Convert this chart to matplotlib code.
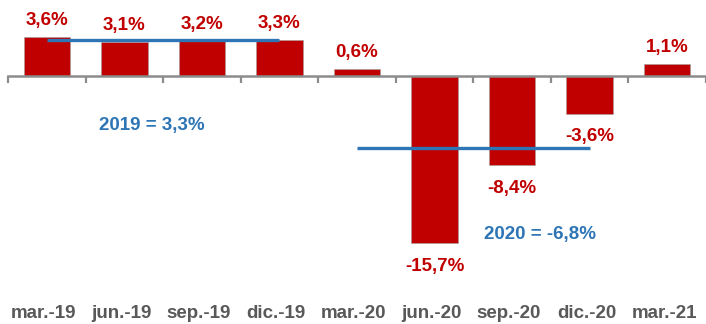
import matplotlib.pyplot as plt
from matplotlib import transforms
import numpy as np

plt.rcParams['font.family'] = ['Liberation Sans', 'DejaVu Sans']

# quarterly growth, % year on year
quarters = ['mar.-19', 'jun.-19', 'sep.-19', 'dic.-19', 'mar.-20',
            'jun.-20', 'sep.-20', 'dic.-20', 'mar.-21']
growth = [3.6, 3.1, 3.2, 3.3, 0.6, -15.7, -8.4, -3.6, 1.1]

# yearly averages
avg_2019 = 3.3
avg_2020 = -6.8
avg_labels = ['2019 = 3,3%', '2020 = -6,8%']

red = '#C00000'
blue = '#2E75B6'
grey = '#8C8C8C'

fig = plt.figure(figsize=(7.06, 3.24), dpi=100)
W, H = 706, 324
# axes in pixels: left 8, right 706, top 0, bottom 290
ax = fig.add_axes([8 / W, (H - 290) / H, (706 - 8) / W, 290 / H])

x = np.arange(len(quarters))
ax.bar(x, growth, width=0.6, color=red, edgecolor='#A0A0A0', linewidth=0.4, zorder=2)

ax.set_xlim(-0.5, len(quarters) - 0.5)
ax.set_ylim(-(290 - 75.5) / 10.7, 75.5 / 10.7)

# average lines
ax.plot([0, 3], [avg_2019, avg_2019], color=blue, lw=2.4, zorder=3, solid_capstyle='butt')
ax.plot([4, 7], [avg_2020, avg_2020], color=blue, lw=2.4, zorder=3, solid_capstyle='butt')

# data labels
for xi, v in zip(x, growth):
    txt = f'{v:.1f}%'.replace('.', ',')
    off = 12 if v >= 0 else -16.5
    ax.annotate(txt, (xi, v), xytext=(0, off), textcoords='offset points',
                ha='center', va='center', color=red, fontsize=13.5, fontweight='bold')

ax.text(1.36, -4.65, avg_labels[0], ha='center', va='center', color=blue,
        fontsize=13.5, fontweight='bold')
ax.text(6.36, -14.9, avg_labels[1], ha='center', va='center', color=blue,
        fontsize=13.5, fontweight='bold')

# axis: zero line with ticks between categories
for s in ['top', 'right', 'left']:
    ax.spines[s].set_visible(False)
ax.spines['bottom'].set_position(('data', 0))
ax.spines['bottom'].set_color(grey)
ax.spines['bottom'].set_linewidth(1.8)
ax.spines['bottom'].set_zorder(4)
ax.set_yticks([])
ax.set_xticks(np.arange(len(quarters) + 1) - 0.5)
ax.set_xticklabels([])
ax.tick_params(axis='x', direction='out', length=5, width=1.6, color=grey)

# category labels at the bottom
trans = transforms.blended_transform_factory(ax.transData, fig.transFigure)
for xi, q in zip(x, quarters):
    ax.text(xi - 0.04, 1 - 314 / H, q, transform=trans, ha='center', va='center',
            color='#595959', fontsize=13.5, fontweight='bold')

fig.savefig('out.png', dpi=100)
